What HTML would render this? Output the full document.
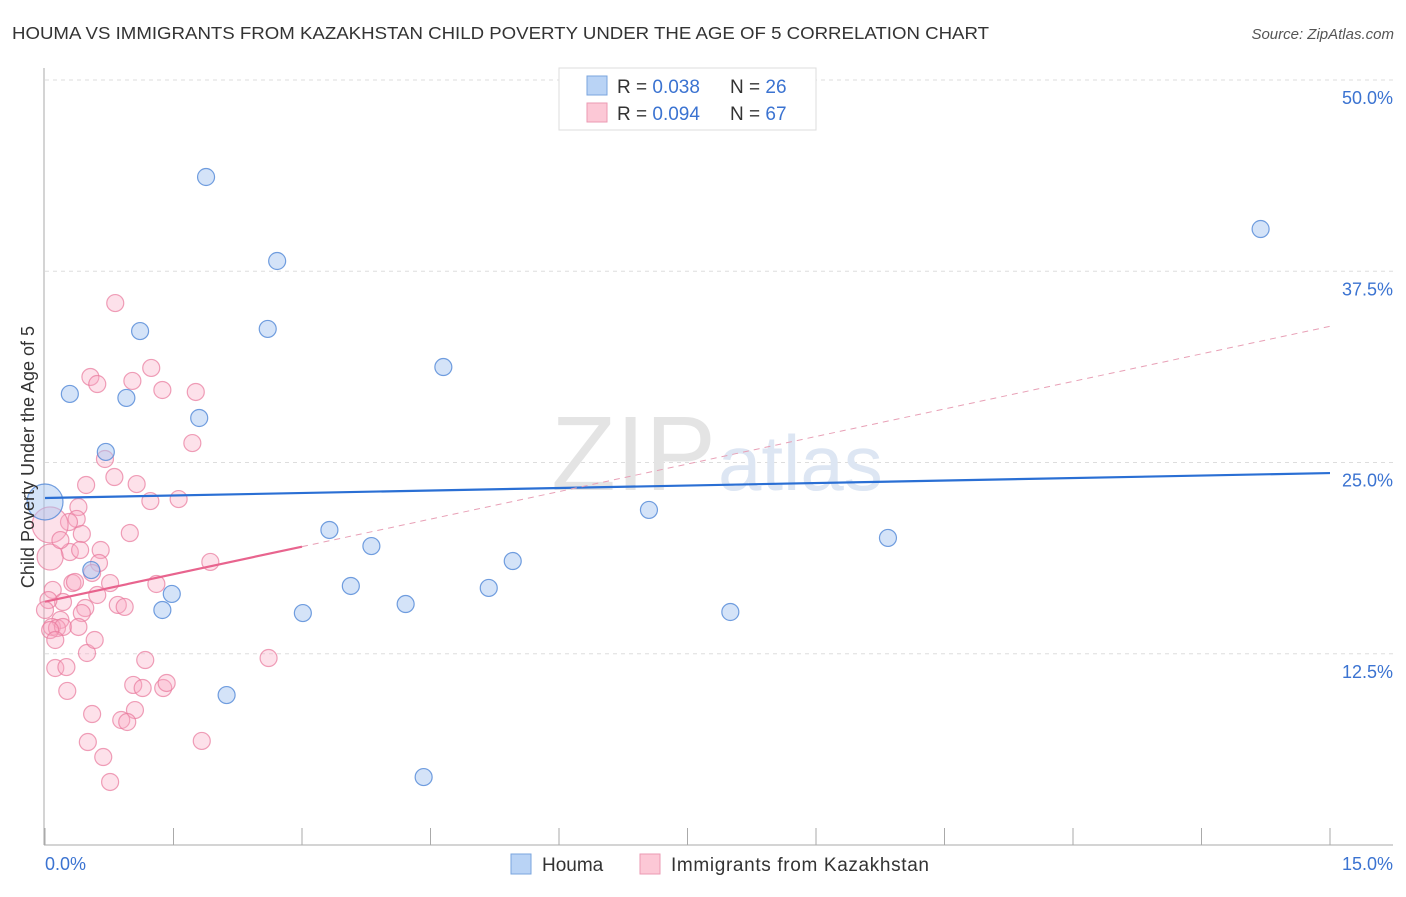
<!DOCTYPE html>
<html><head><meta charset="utf-8"><style>
body{margin:0;background:#fff;font-family:"Liberation Sans",sans-serif}
svg text{font-family:"Liberation Sans",sans-serif}
</style></head><body>
<svg width="1406" height="892" xmlns="http://www.w3.org/2000/svg">
<text x="12" y="39" font-size="17.5" fill="#333" textLength="977" lengthAdjust="spacingAndGlyphs">HOUMA VS IMMIGRANTS FROM KAZAKHSTAN CHILD POVERTY UNDER THE AGE OF 5 CORRELATION CHART</text>
<text x="1394" y="39" font-size="15" fill="#555" font-style="italic" text-anchor="end">Source: ZipAtlas.com</text>
<g id="grid"></g>
<text x="716" y="490" font-size="106" fill="#e4e4e4" text-anchor="end" font-family="Liberation Serif">ZIP</text>
<text x="718" y="490" font-size="78" fill="#dde6f3">atlas</text>
<g id="axes"></g>
<g id="pts"></g>
<g id="lines"></g>
<text transform="translate(34,457) rotate(-90)" font-size="18" fill="#333" text-anchor="middle">Child Poverty Under the Age of 5</text>
<text x="45" y="870" font-size="18" fill="#3b73d1">0.0%</text>
<text x="1393" y="870" font-size="18" fill="#3b73d1" text-anchor="end">15.0%</text>
<g>
<rect x="559" y="68" width="257" height="62" fill="#fff" stroke="#ddd"/>
<rect x="587" y="76" width="20" height="19" fill="#b9d3f5" stroke="#7aa5de"/>
<rect x="587" y="103" width="20" height="19" fill="#fcc8d6" stroke="#eb9ab3"/>
<text x="617" y="93" font-size="19" fill="#333">R = <tspan fill="#3b73d1">0.038</tspan></text>
<text x="730" y="93" font-size="19" fill="#333">N = <tspan fill="#3b73d1">26</tspan></text>
<text x="617" y="120" font-size="19" fill="#333">R = <tspan fill="#3b73d1">0.094</tspan></text>
<text x="730" y="120" font-size="19" fill="#333">N = <tspan fill="#3b73d1">67</tspan></text>
</g>
<g>
<rect x="511" y="854" width="20" height="20" fill="#b9d3f5" stroke="#7aa5de"/>
<text x="542" y="871" font-size="19" fill="#333">Houma</text>
<rect x="640" y="854" width="20" height="20" fill="#fcc8d6" stroke="#eb9ab3"/>
<text x="671" y="871" font-size="19" fill="#333" textLength="258">Immigrants from Kazakhstan</text>
</g>
</svg>
<script>
const yTicks=[12.5,25,37.5,50];
const yTickLabels=["12.5%","25.0%","37.5%","50.0%"];
const xTicks=[0,1.5,3,4.5,6,7.5,9,10.5,12,13.5,15];
const houmaX=[1.88,2.71,1.11,2.60,0.29,0.95,4.65,1.80,0.71,14.19,0,3.32,3.81,7.05,9.84,5.46,0.54,1.48,1.37,3.57,5.18,4.21,3.01,8.00,2.12,4.42];
const houmaY=[43.66,38.17,33.59,33.73,29.48,29.22,31.24,27.91,25.69,40.26,22.42,20.59,19.54,21.90,20.07,18.56,17.97,16.41,15.36,16.93,16.80,15.75,15.16,15.23,9.80,4.44];
const houmaR=[8.5,8.5,8.5,8.5,8.5,8.5,8.5,8.5,8.5,8.5,18,8.5,8.5,8.5,8.5,8.5,8.5,8.5,8.5,8.5,8.5,8.5,8.5,8.5,8.5,8.5];
const kazX=[0.82,0.53,0.61,1.02,1.24,1.37,1.76,1.72,0.70,0.81,0.48,1.07,1.23,1.56,0.39,0.37,0.28,0.06,0.43,0.99,0.29,0.41,0.65,0.63,0.06,1.93,0.55,0.32,0.35,0.76,0.09,0.61,1.30,0.21,0.47,0.04,0.43,0.85,0.93,0.18,0.08,0.14,0.21,0.39,0.06,0.49,0.12,0.25,1.17,2.61,0.26,1.03,1.14,1.38,1.42,0.55,1.05,0.89,0.96,0.50,1.83,0.68,0.76,0.18,0.12,0,0.58];
const kazY=[35.42,30.59,30.13,30.33,31.18,29.74,29.61,26.27,25.23,24.05,23.53,23.59,22.48,22.61,22.09,21.31,21.11,20.92,20.33,20.39,19.15,19.28,19.28,18.43,18.82,18.50,17.78,17.12,17.19,17.12,16.67,16.34,17.06,15.88,15.49,16.01,15.16,15.69,15.56,14.71,14.25,14.18,14.25,14.25,14.05,12.55,11.57,11.63,12.09,12.22,10.07,10.46,10.26,10.26,10.59,8.56,8.82,8.17,8.04,6.73,6.80,5.75,4.12,19.93,13.4,15.36,13.4];
const kazR=kazX.map((v,i)=>i===17?18:(i===24?13:8.5));
const houmaTrend=[22.68,24.31];
const kazTrend=[15.9,1.2];
const NS="http://www.w3.org/2000/svg";
const sx=v=>45+v*(1285/15), sy=v=>845-v*15.3;
function mk(tag,attrs,parent){const e=document.createElementNS(NS,tag);for(const k in attrs)e.setAttribute(k,attrs[k]);document.getElementById(parent).appendChild(e);return e;}
yTicks.forEach((t,i)=>{
 const l=mk('line',{x1:45,x2:1393,y1:sy(t),y2:sy(t),stroke:'#ddd','stroke-dasharray':'4,4'},'grid');
 
 
 const tx=mk('text',{x:1393,y:sy(t)+24,'font-size':18,fill:'#3b73d1','text-anchor':'end'},'grid');
 tx.textContent=yTickLabels[i];
 
 
});
let a=mk('line',{x1:44,x2:44,y1:68,y2:845,stroke:'#aaa'},'axes');


a=mk('line',{x1:44,x2:1393,y1:845,y2:845,stroke:'#aaa'},'axes');


xTicks.forEach(t=>{
 const l=mk('line',{x1:sx(t),x2:sx(t),y1:828,y2:845,stroke:'#aaa'},'axes');
 
 
});
kazX.forEach((v,i)=>{
 const c=mk('circle',{cx:sx(v),cy:sy(kazY[i]),r:kazR[i],fill:'rgba(248,170,195,0.35)',stroke:'rgba(232,120,155,0.7)','stroke-width':1.2},'pts');
 
 
});
houmaX.forEach((v,i)=>{
 const c=mk('circle',{cx:sx(v),cy:sy(houmaY[i]),r:houmaR[i],fill:'rgba(170,200,242,0.5)',stroke:'rgba(80,135,215,0.8)','stroke-width':1.2},'pts');
 
 
});
let t=mk('line',{x1:sx(0),y1:sy(houmaTrend[0]),x2:sx(15),y2:sy(houmaTrend[1]),stroke:'#2a6fd4','stroke-width':2.2},'lines');


t=mk('line',{x1:sx(0),y1:sy(kazTrend[0]),x2:sx(3),y2:sy(kazTrend[0]+kazTrend[1]*3),stroke:'#e8648e','stroke-width':2.2},'lines');


t=mk('line',{x1:sx(3),y1:sy(kazTrend[0]+kazTrend[1]*3),x2:sx(15),y2:sy(kazTrend[0]+kazTrend[1]*15),stroke:'#e8a0b6','stroke-width':1,'stroke-dasharray':'6,5'},'lines');


</script>
</body></html>
